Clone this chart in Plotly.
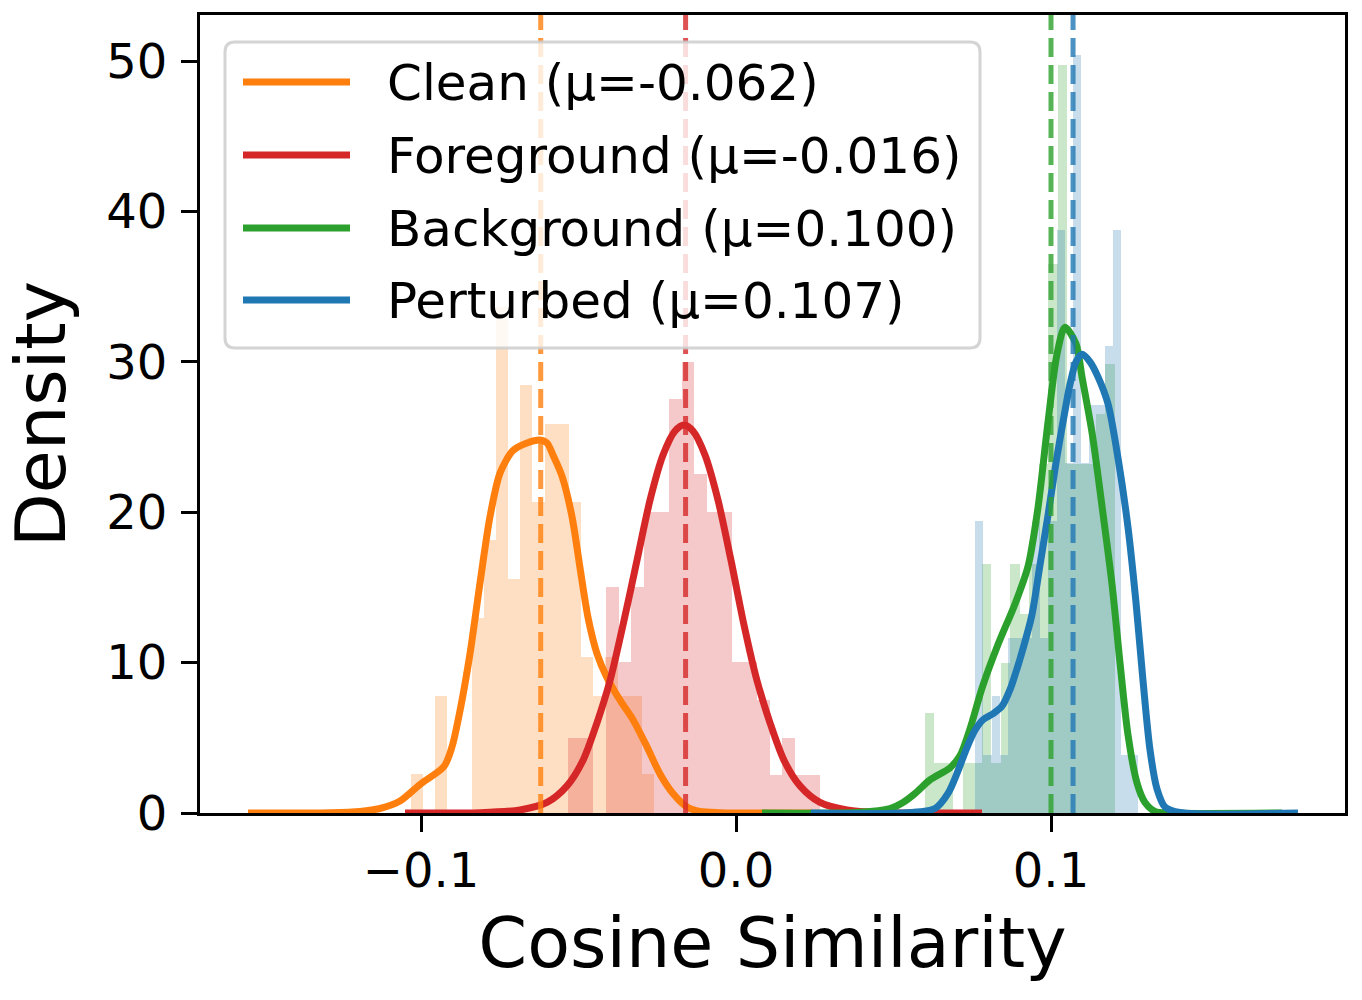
import plotly.graph_objects as go

# ---------------- data ----------------
series_names = ["Clean", "Foreground", "Background", "Perturbed"]
series_means = [-0.062, -0.016, 0.100, 0.107]

# histogram (density=True, 20 bins each): first bin left edge, bin width, densities
clean_bin_start = -0.10327
clean_bin_width = 0.003863
clean_density = [2.59, 0, 7.77, 0, 0, 12.94, 18.12, 33.65, 15.53, 28.48,
                 20.71, 25.89, 25.89, 20.71, 10.36, 7.77, 10.36, 7.77, 7.77, 2.59]

fg_bin_start = -0.05327
fg_bin_width = 0.003997
fg_density = [5.0, 5.0, 0, 15.01, 10.01, 15.01, 20.02, 20.02, 27.52, 30.02,
              22.52, 20.02, 20.02, 10.01, 10.01, 7.51, 2.5, 5.0, 2.5, 2.5]

bg_bin_start = 0.05984
bg_bin_width = 0.003016
bg_density = [6.63, 3.32, 3.32, 0, 3.32, 3.32, 16.58, 3.32, 9.95, 16.58,
              13.26, 16.58, 23.21, 36.47, 49.73, 23.21, 23.21, 23.21, 26.53, 29.84]

pt_bin_start = 0.07597
pt_bin_width = 0.002578
pt_density = [19.4, 3.88, 7.76, 3.88, 11.64, 11.64, 11.64, 19.4, 11.64, 19.4,
              38.79, 23.27, 50.43, 23.27, 27.15, 27.15, 31.03, 38.79, 3.88, 3.88]

# KDE curves
clean_kde_x = [-0.15492, -0.12889, -0.11937, -0.11302, -0.10667, -0.10032, -0.09270,
               -0.09016, -0.08762, -0.08444, -0.08127, -0.07810, -0.07492, -0.07079,
               -0.06635, -0.06222, -0.06000, -0.05810, -0.05524, -0.05206, -0.04952,
               -0.04698, -0.04413, -0.04095, -0.03683, -0.03270, -0.02825, -0.02413,
               -0.02000, -0.01556, -0.01143, -0.00508, 0.02413]
clean_kde_y = [0, 0.02, 0.1, 0.3, 0.8, 1.9, 3.1, 4.4, 6.8, 10.6, 15.3, 19.7, 22.6, 24.1,
               24.6, 24.8, 24.6, 23.8, 22.4, 19.7, 16.3, 13.0, 10.6, 9.0, 7.5, 6.2, 4.4,
               2.6, 1.3, 0.4, 0.1, 0.02, 0]

fg_kde_x = [-0.10508, -0.08127, -0.06857, -0.06000, -0.05365, -0.04857, -0.04413,
            -0.04000, -0.03587, -0.03143, -0.02730, -0.02317, -0.01937, -0.01651,
            -0.01365, -0.00984, -0.00571, -0.00159, 0.00254, 0.00667, 0.01079,
            0.01524, 0.02032, 0.02667, 0.03524, 0.04571, 0.07810]
fg_kde_y = [0, 0.02, 0.2, 0.7, 1.8, 3.5, 6.0, 8.8, 12.5, 16.8, 20.8, 23.8, 25.4, 25.8,
            25.4, 23.8, 20.8, 16.8, 12.5, 8.8, 6.0, 3.5, 1.8, 0.7, 0.2, 0.03, 0]

bg_kde_x = [0.00825, 0.03937, 0.04889, 0.05302, 0.05683, 0.06159, 0.06794, 0.07111,
            0.07429, 0.07810, 0.08317, 0.08857, 0.09270, 0.09587, 0.09905, 0.10190,
            0.10444, 0.10794, 0.10984, 0.11302, 0.11619, 0.11937, 0.12190, 0.12444,
            0.12730, 0.12984, 0.13302, 0.13778, 0.17333]
bg_kde_y = [0, 0.05, 0.3, 0.7, 1.3, 2.2, 3.0, 3.8, 5.6, 8.3, 11.2, 13.9, 16.4, 20.3,
            26.0, 30.5, 32.3, 31.2, 29.0, 25.3, 20.4, 15.2, 10.0, 5.2, 2.0, 0.7, 0.1, 0, 0]

pt_kde_x = [0.02381, 0.05206, 0.06317, 0.06730, 0.07048, 0.07302, 0.07587, 0.07841,
            0.08159, 0.08444, 0.08698, 0.08952, 0.09175, 0.09397, 0.09651, 0.09905,
            0.10159, 0.10381, 0.10603, 0.10794, 0.10984, 0.11238, 0.11492, 0.11810,
            0.12127, 0.12444, 0.12698, 0.12921, 0.13143, 0.13365, 0.13619, 0.14095,
            0.17841]
pt_kde_y = [0, 0, 0.3, 1.3, 2.8, 4.2, 5.5, 6.2, 6.6, 7.1, 8.2, 9.8, 11.4, 13.2, 16.5,
            19.8, 23.3, 26.0, 28.5, 30.0, 30.5, 30.0, 29.0, 27.2, 23.6, 19.0, 14.0,
            8.8, 4.2, 1.6, 0.4, 0.03, 0]

x_ticks = [-0.1, 0.0, 0.1]
y_ticks = [0, 10, 20, 30, 40, 50]

# ---------------- styling ----------------
colors = ["#ff7f0e", "#d62728", "#2ca02c", "#1f77b4"]
FONT = "DejaVu Sans"


def rgba(hex_color, a):
    h = hex_color.lstrip("#")
    r, g, b = int(h[0:2], 16), int(h[2:4], 16), int(h[4:6], 16)
    return f"rgba({r},{g},{b},{a})"


hist_sets = [
    (clean_bin_start, clean_bin_width, clean_density),
    (fg_bin_start, fg_bin_width, fg_density),
    (bg_bin_start, bg_bin_width, bg_density),
    (pt_bin_start, pt_bin_width, pt_density),
]
kde_sets = [
    (clean_kde_x, clean_kde_y),
    (fg_kde_x, fg_kde_y),
    (bg_kde_x, bg_kde_y),
    (pt_kde_x, pt_kde_y),
]

fig = go.Figure()

for name, col, (start, w, dens) in zip(series_names, colors, hist_sets):
    centers = [start + w * (i + 0.5) for i in range(len(dens))]
    fig.add_trace(go.Bar(
        x=centers, y=dens, width=w, name=name + " hist",
        marker=dict(color=rgba(col, 0.25), line=dict(width=0)),
        showlegend=False, hoverinfo="skip",
    ))

LINE_W = 7
for name, col, (kx, ky) in zip(series_names, colors, kde_sets):
    fig.add_trace(go.Scatter(
        x=kx, y=ky, mode="lines", name=name,
        line=dict(color=col, width=LINE_W, shape="spline", smoothing=0.8),
        showlegend=False,
    ))

shapes = []
for col, m in zip(colors, series_means):
    shapes.append(dict(
        type="line", xref="x", yref="paper", x0=m, x1=m, y0=0, y1=1,
        line=dict(color=rgba(col, 0.8), width=5, dash="19px,8px"),
        layer="above",
    ))

# ---- hand-made legend (matplotlib style) ----
L, R, T, B = 200, 1345, 15, 813          # plot area in pixels
PW, PH = R - L, B - T


def px(xp):
    return (xp - L) / PW


def py(yp):
    return (B - yp) / PH


bx0, bx1, by0, by1 = px(225), px(980), py(348), py(42)
rx, ry = 10 / PW, 10 / PH
path = (f"M {bx0+rx},{by1} L {bx1-rx},{by1} Q {bx1},{by1} {bx1},{by1-ry} "
        f"L {bx1},{by0+ry} Q {bx1},{by0} {bx1-rx},{by0} "
        f"L {bx0+rx},{by0} Q {bx0},{by0} {bx0},{by0+ry} "
        f"L {bx0},{by1-ry} Q {bx0},{by1} {bx0+rx},{by1} Z")
shapes.append(dict(type="path", xref="paper", yref="paper", path=path,
                   fillcolor="rgba(255,255,255,0.8)",
                   line=dict(color="rgba(204,204,204,0.85)", width=3),
                   layer="above"))

annotations = []
row_y = [82, 155, 228, 300]
for name, col, m, yr in zip(series_names, colors, series_means, row_y):
    shapes.append(dict(type="line", xref="paper", yref="paper",
                       x0=px(243), x1=px(350), y0=py(yr), y1=py(yr),
                       line=dict(color=col, width=LINE_W), layer="above"))
    annotations.append(dict(
        xref="paper", yref="paper", x=px(385), y=py(yr + 1),
        xanchor="left", yanchor="middle", showarrow=False,
        text=f"{name} (\u03bc={m:.3f})",
        font=dict(family=FONT, size=50, color="black"),
    ))

fig.update_layout(
    width=1362, height=1000,
    margin=dict(l=L, r=1362 - R, t=T, b=1000 - B, pad=0),
    paper_bgcolor="white", plot_bgcolor="white",
    barmode="overlay", bargap=0,
    showlegend=False,
    font=dict(family=FONT, color="black"),
    shapes=shapes, annotations=annotations,
)

axis_common = dict(
    showgrid=False, zeroline=False, showline=True, mirror=True,
    linecolor="black", linewidth=3,
    ticks="outside", ticklen=16, tickwidth=3, tickcolor="black",
    tickfont=dict(family=FONT, size=48, color="black"),
)

fig.update_xaxes(
    range=[(L - 736) / 3150, (R - 736) / 3150],
    tickvals=x_ticks, tickformat=".1f", ticklabelstandoff=-3,
    title=dict(text="Cosine Similarity", font=dict(family=FONT, size=70, color="black"), standoff=22),
    **axis_common,
)
fig.update_yaxes(
    range=[0, (B - T) / 15.04],
    tickvals=y_ticks, ticklabelstandoff=4,
    title=dict(text="Density", font=dict(family=FONT, size=70, color="black"), standoff=18),
    **axis_common,
)

fig.write_html("out.html")
